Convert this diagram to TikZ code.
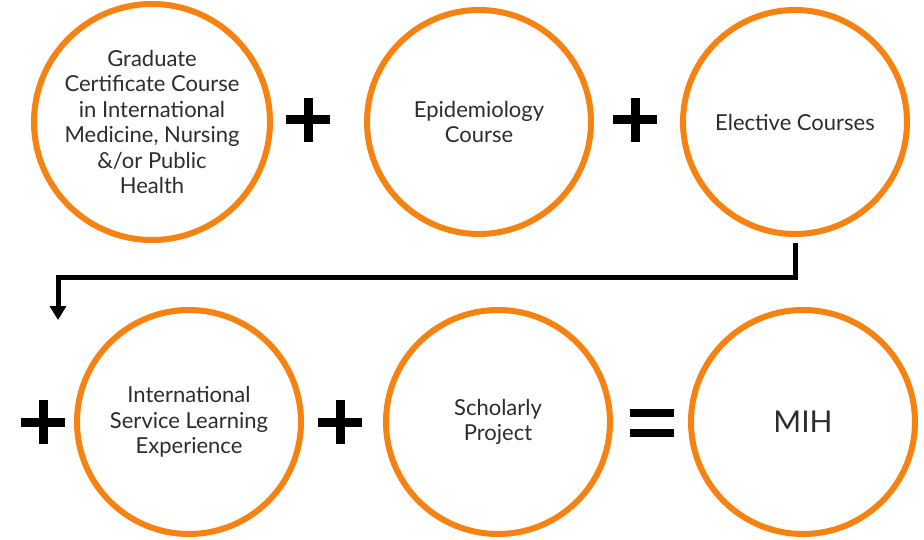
\documentclass[tikz,border=0pt]{standalone}
\usepackage{fontspec}
\setmainfont{Lato}
\usetikzlibrary{arrows.meta}
\definecolor{mihorange}{RGB}{246,130,18}
\definecolor{mihtext}{RGB}{45,45,45}
\tikzset{
	course/.style={circle, draw=mihorange, line width=6pt, fill=white, minimum size=224pt,
		align=center, text=mihtext, font=\fontsize{22}{25.5}\selectfont},
	plussign/.style={minimum size=44pt, inner sep=0pt,
		path picture={
			\draw[line width=9pt] (path picture bounding box.west) -- (path picture bounding box.east);
			\draw[line width=9pt] (path picture bounding box.north) -- (path picture bounding box.south);
		}},
	eqsign/.style={minimum width=44pt, minimum height=28pt, inner sep=0pt,
		path picture={
			\fill (path picture bounding box.north west) rectangle ([yshift=-8pt]path picture bounding box.north east);
			\fill (path picture bounding box.south west) rectangle ([yshift=8pt]path picture bounding box.south east);
		}}
}
\begin{document}
\begin{tikzpicture}[x=1pt, y=1pt]
		\useasboundingbox[fill=white] (0,0) rectangle (924,539);

		\node[course] (grad) at (152, 417) {Graduate\\Certificate Course\\in International\\Medicine, Nursing\\\&/or Public\\Health};
		\node[course] (epi) at (479, 417) {Epidemiology\\Course};
		\node[course] (elec) at (795, 417) {Elective Courses};

		\node[course] (isl) at (189, 117) {International\\Service Learning\\Experience};
		\node[course] (proj) at (498, 117) {Scholarly\\Project};
		\node[course] (mih) at (803, 117) {\fontsize{30}{34}\selectfont MIH};

		\node[plussign] (plusa) at (308, 419) {};
		\node[plussign] (plusb) at (635, 419) {};
		\node[plussign] (plusc) at (43, 117) {};
		\node[plussign] (plusd) at (340, 117) {};
		\node[eqsign] (equal) at (652, 116) {};

		\coordinate (turn) at (58, 261);
		\coordinate (drop) at (58, 219);
		\draw[line width=5pt, -{Triangle[width=16pt, length=14pt]}]
			([yshift=-6pt]elec.south) |- (turn) -- (drop);

	\end{tikzpicture}
\end{document}
